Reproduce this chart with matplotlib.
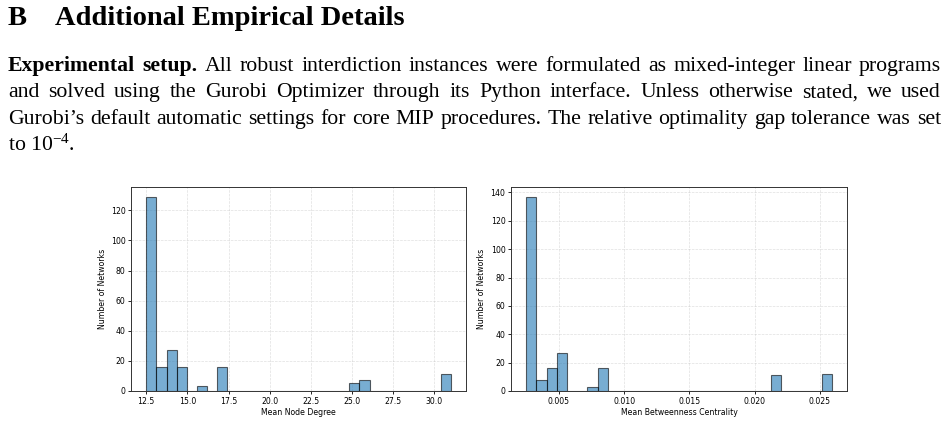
import numpy as np
import matplotlib
matplotlib.use('Agg')
from matplotlib import pyplot as plt

# histogram counts (30 bins each)
deg_range = (12.5, 31.0)
deg_counts = [129, 16, 27, 16, 0, 3, 0, 16, 0, 0,
              0, 0, 0, 0, 0, 0, 0, 0, 0, 0,
              5, 7, 0, 0, 0, 0, 0, 0, 0, 11]
bc_range = (0.0025, 0.0259)
bc_counts = [137, 8, 16, 27, 0, 0, 3, 16, 0, 0,
             0, 0, 0, 0, 0, 0, 0, 0, 0, 0,
             0, 0, 0, 0, 11, 0, 0, 0, 0, 12]

heading_num = 'B'
heading = 'Additional Empirical Details'
para_lines = [
    ['Experimental setup.', 'All robust interdiction instances were formulated as mixed-integer linear programs'],
    ['', 'and solved using the Gurobi Optimizer through its Python interface.  Unless otherwise stated, we used'],
    ['', 'Gurobi\u2019s default automatic settings for core MIP procedures. The relative optimality gap tolerance was set'],
]
last_line = r'to $\mathregular{10^{-4}}$.'

W, H = 948, 421
fig = plt.figure(figsize=(W / 100, H / 100), dpi=100)


def fx(x):
    return x / W


def fy(y):
    return 1 - y / H


serif = 'Liberation Serif'
fig.text(fx(8), fy(25), heading_num, family=serif, weight='bold', fontsize=20.5, va='baseline')
fig.text(fx(55), fy(25), heading, family=serif, weight='bold', fontsize=20.5, va='baseline')

fig.canvas.draw()
renderer = fig.canvas.get_renderer()

# justified paragraph lines
left, right = 8, 941
para_size = 15.7
baselines = [70.7, 97.3, 124.0, 150.7]
for (bold_part, rest), yb in zip(para_lines, baselines):
    words = []
    for w in bold_part.split():
        words.append((w, 'bold'))
    for w in rest.split():
        words.append((w, 'normal'))
    texts = []
    widths = []
    for w, wt in words:
        t = fig.text(0, fy(yb), w, family=serif, weight=wt, fontsize=para_size, va='baseline')
        texts.append(t)
        widths.append(t.get_window_extent(renderer).width)
    gap = (right - left - sum(widths)) / (len(words) - 1)
    x = left
    for t, wd in zip(texts, widths):
        t.set_x(fx(x))
        x += wd + gap

fig.text(fx(left), fy(baselines[3]), last_line, family=serif, fontsize=para_size, va='baseline')

plt.rcParams['font.family'] = 'DejaVu Sans'
fs = 5.6

ax1 = fig.add_axes([fx(131), fy(391), (466 - 131) / W, (391 - 187) / H])
ax2 = fig.add_axes([fx(511), fy(391), (847 - 511) / W, (391 - 187) / H])

for ax, rng, counts, xlabel in [(ax1, deg_range, deg_counts, 'Mean Node Degree'),
                                (ax2, bc_range, bc_counts, 'Mean Betweenness Centrality')]:
    edges = np.linspace(rng[0], rng[1], len(counts) + 1)
    ax.hist(edges[:-1], bins=edges, weights=counts, color='#1f77b4', alpha=0.6,
            edgecolor='black', linewidth=0.8, zorder=2)
    ax.grid(True, linestyle='--', linewidth=0.5, alpha=0.4, zorder=0)
    ax.set_axisbelow(True)
    ax.set_xlabel(xlabel, fontsize=fs, labelpad=2)
    ax.set_ylabel('Number of Networks', fontsize=fs, labelpad=3)
    ax.tick_params(labelsize=fs, length=2.5, width=0.6, pad=1.5)
    for s in ax.spines.values():
        s.set_linewidth(0.7)
        s.set_color('#333333')

fig.savefig('out.png', dpi=100)
